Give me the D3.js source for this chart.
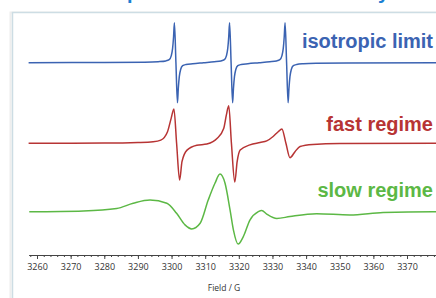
<!DOCTYPE html>
<html>
<head>
<meta charset="utf-8">
<script src="https://cdn.jsdelivr.net/npm/d3@7"></script>
<style>
  body { margin: 0; background: #fff; }
  svg { display: block; }
</style>
</head>
<body>
<svg id="chart" width="436" height="298"></svg>
<script>
// field axis ticks (G)
var majorTicks = [3260, 3270, 3280, 3290, 3300, 3310, 3320, 3330, 3340, 3350, 3360, 3370];
var minorTicks = d3.range(3258, 3379, 2);

// spectra: [field (G), signal (arb.)]
var isotropic = [
  [3257.5, 0], [3280, 0.005], [3292, 0.012], [3296, 0.025], [3298.3, 0.045], [3299.3, 0.075],
  [3299.9, 0.17], [3300.3, 0.35], [3300.6, 0.65], [3300.85, 1.0], [3301.3, 0], [3301.75, -1.0],
  [3302.0, -0.65], [3302.3, -0.35], [3302.7, -0.17], [3303.3, -0.075], [3304.3, -0.045],
  [3306.3, -0.025], [3309.5, 0],
  [3312.7, 0.025], [3314.7, 0.045], [3315.7, 0.075], [3316.3, 0.17], [3316.7, 0.35],
  [3317.0, 0.65], [3317.25, 1.0], [3317.7, 0], [3318.15, -1.0], [3318.4, -0.65], [3318.7, -0.35],
  [3319.1, -0.17], [3319.7, -0.075], [3320.7, -0.045], [3322.7, -0.025], [3326.0, 0],
  [3329.2, 0.025], [3331.2, 0.045], [3332.2, 0.075], [3332.8, 0.17], [3333.2, 0.35],
  [3333.5, 0.65], [3333.75, 1.0], [3334.2, 0], [3334.65, -1.0], [3334.9, -0.65], [3335.2, -0.35],
  [3335.6, -0.17], [3336.2, -0.075], [3337.2, -0.045], [3339.2, -0.025], [3343, -0.012],
  [3352, -0.005], [3380, 0]
];

var fast = [
  [3257.5, 0], [3280, 0.005], [3290, 0.02], [3294.5, 0.04], [3296.8, 0.08], [3298.8, 0.29],
  [3299.9, 0.63], [3300.7, 0.86], [3301.5, 0], [3302.4, -0.92], [3303.1, -0.46], [3304.6, -0.17],
  [3307.5, -0.05], [3310.5, -0.02], [3312.3, 0.04], [3313.5, 0.12], [3315.5, 0.37], [3316.3, 0.71],
  [3317.0, 0.94], [3317.8, 0], [3318.8, -0.97], [3319.5, -0.46], [3320.4, -0.17], [3323.3, -0.04],
  [3326.3, 0.02], [3328.3, 0.06], [3330.2, 0.17], [3331.7, 0.29], [3332.8, 0.36], [3334.0, 0],
  [3335.2, -0.36], [3336.7, -0.21], [3338.2, -0.08], [3342.0, -0.03], [3350, -0.005], [3380, 0]
];

var slow = [
  [3257.7, 0], [3273.8, 0.02], [3283.7, 0.08], [3288.6, 0.21], [3293.6, 0.29], [3298.6, 0.21],
  [3301.5, -0.04], [3304.0, -0.33], [3306.0, -0.43], [3308.5, -0.29], [3310.9, 0.29],
  [3312.9, 0.71], [3314.4, 0.94], [3315.9, 0.71], [3317.4, 0.04], [3318.4, -0.46],
  [3319.8, -0.81], [3321.3, -0.63], [3323.3, -0.21], [3325.8, 0.0], [3326.8, 0.03],
  [3328.3, -0.06], [3331.3, -0.17], [3335.2, -0.12], [3343.1, -0.05], [3353.0, -0.08],
  [3362.9, -0.02], [3377.7, 0], [3380, 0]
];

var seriesNames = ["isotropic limit", "fast regime", "slow regime"];
var seriesColors = ["#3b63b2", "#b73434", "#5cb845"];
var seriesData = [isotropic, fast, slow];
var baselines = [62.7, 143.3, 211.7];
var labelBaselines = [48, 131, 197];

var svg = d3.select("#chart");

// title running off the top edge
var title = svg.append("text")
    .attr("y", -1)
    .attr("fill", "#1b80d2")
    .style("font-family", "'Liberation Sans', Arial, sans-serif")
    .style("font-weight", "bold")
    .style("font-size", "20px")
    .text("Nitroxide spectra and rotational dynamics");
var tn = title.node();
var txt = tn.textContent;
var pi = txt.indexOf("p"), yi = txt.indexOf("y");
var p0 = tn.getStartPositionOfChar(pi).x, y0 = tn.getStartPositionOfChar(yi).x;
var spacing = ((378 - 127) - (y0 - p0)) / (yi - pi);
title.style("letter-spacing", spacing + "px");
p0 = tn.getStartPositionOfChar(pi).x;
title.attr("x", 127 - p0);

// framed panel
svg.append("rect")
    .attr("x", 10.5).attr("y", 12.5).attr("width", 440).attr("height", 300)
    .attr("fill", "none").attr("stroke", "#eeeeee").attr("stroke-width", 2);
svg.append("rect")
    .attr("x", 12.5).attr("y", 12.5).attr("width", 440).attr("height", 300)
    .attr("fill", "#fff").attr("stroke", "#cddde4").attr("stroke-width", 1.5);

var x = d3.scaleLinear().domain([3257.5, 3378.5]).range([28.6, 435.6]);
var y = d3.scaleLinear().domain([-1, 1]).range([40, -40]);

var line = d3.line()
    .x(function(d) { return x(d[0]); })
    .y(function(d) { return y(d[1]); })
    .curve(d3.curveMonotoneX);

seriesData.forEach(function(data, i) {
    var g = svg.append("g").attr("transform", "translate(0," + baselines[i] + ")");
    g.append("path")
        .datum(data)
        .attr("d", line)
        .attr("fill", "none")
        .attr("stroke", seriesColors[i])
        .attr("stroke-width", 1.5)
        .attr("stroke-linejoin", "round");
    svg.append("text")
        .attr("x", 433)
        .attr("y", labelBaselines[i])
        .attr("text-anchor", "end")
        .attr("fill", seriesColors[i])
        .style("font-family", "'Liberation Sans', Arial, sans-serif")
        .style("font-weight", "bold")
        .style("font-size", "20px")
        .text(seriesNames[i]);
});

// axis
var axisY = 255;
svg.append("g")
    .attr("transform", "translate(0," + axisY + ")")
    .call(d3.axisBottom(x).tickValues(minorTicks).tickSize(2).tickSizeOuter(0).tickFormat(""))
    .call(function(g) { g.select(".domain").remove(); })
    .selectAll("line").attr("stroke", "#444");

var axis = svg.append("g")
    .attr("transform", "translate(0," + axisY + ")")
    .call(d3.axisBottom(x).tickValues(majorTicks).tickSize(4).tickSizeOuter(0).tickPadding(5)
        .tickFormat(d3.format("d")));
axis.select(".domain").attr("stroke", "#444");
axis.selectAll("line").attr("stroke", "#444");
axis.selectAll("text")
    .attr("fill", "#333")
    .style("font-family", "'Open Sans', sans-serif")
    .style("font-size", "9px");

svg.append("text")
    .attr("x", 224)
    .attr("y", 291)
    .attr("text-anchor", "middle")
    .attr("fill", "#333")
    .style("font-family", "'Open Sans', sans-serif")
    .style("font-size", "8.5px")
    .text("Field / G");
</script>
</body>
</html>
